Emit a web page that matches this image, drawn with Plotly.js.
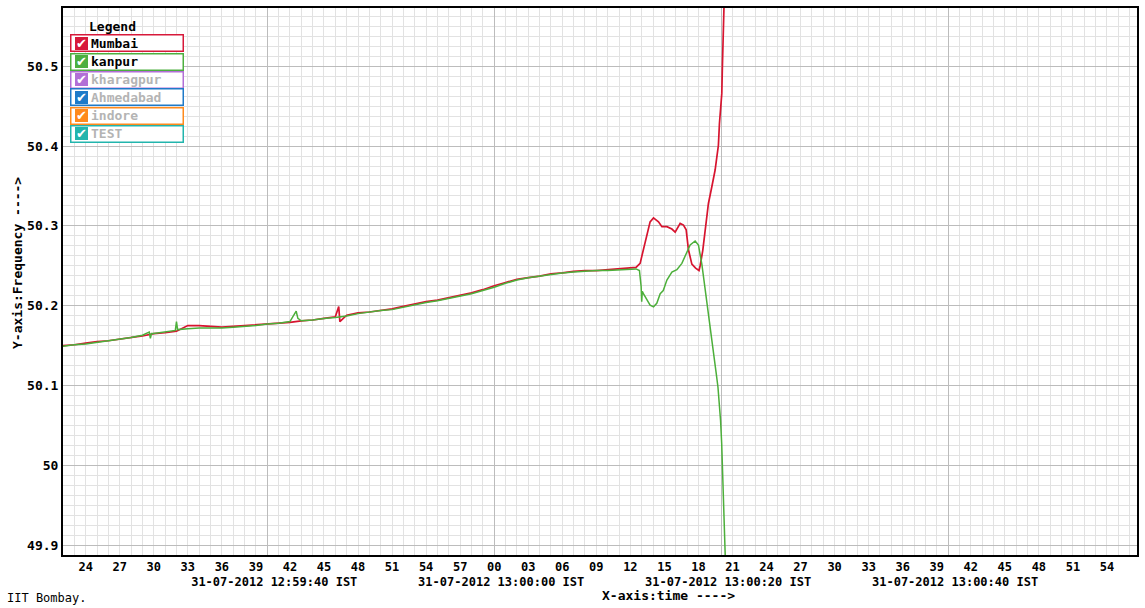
<!DOCTYPE html>
<html>
<head>
<meta charset="utf-8">
<script src="https://cdn.plot.ly/plotly-3.0.1.min.js"></script>
<style>html,body{margin:0;padding:0;background:#fff;}#chart{width:1145px;height:608px;}</style>
</head>
<body>
<div id="chart"></div>
<script>
// time in seconds after 31-07-2012 12:59:00 IST
var mumbaiT = [22,23,24,25,26,27,28,29,30,31,32,33,34,35,36,37,38,39,40,41,42,43,44,45,46,46.3,46.4,47,48,49,50,51,52,53,54,55,56,57,58,59,60,61,62,63,64,65,66,67,68,69,70,71,72,72.5,
  72.86,73.30,73.74,74.04,74.48,74.78,75.22,75.66,75.95,76.39,76.68,76.92,77.12,77.42,77.75,78.05,78.15,78.38,78.59,78.88,79.18,79.47,79.62,79.76,79.85,79.97,80.06,80.11,80.20,80.26,80.30];
var mumbaiF = [50.150,50.151,50.153,50.155,50.156,50.158,50.160,50.162,50.165,50.166,50.168,50.175,50.175,50.174,50.173,50.174,50.175,50.176,50.177,50.178,50.179,50.181,50.182,50.184,50.186,50.199,50.180,50.188,50.191,50.192,50.194,50.196,50.199,50.202,50.205,50.207,50.210,50.213,50.216,50.220,50.225,50.229,50.233,50.235,50.237,50.240,50.241,50.243,50.244,50.244,50.245,50.246,50.247,50.248,
  50.253,50.278,50.305,50.310,50.305,50.299,50.299,50.296,50.292,50.303,50.301,50.295,50.270,50.252,50.247,50.244,50.250,50.269,50.297,50.328,50.349,50.370,50.386,50.401,50.428,50.445,50.466,50.499,50.545,50.574,50.600];

var kanpurT = [22,23,24,25,26,27,28,29,29.6,29.7,29.8,30,31,31.9,32.0,32.1,33,34,35,36,37,38,39,40,41,42,42.55,42.7,43,44,45,46,47,48,49,50,51,52,53,54,55,56,57,58,59,60,61,62,63,64,65,66,67,68,69,70,71,72,72.5,
  72.8,72.95,73.0,73.05,73.15,73.44,73.74,74.04,74.33,74.63,74.9,75.22,75.66,76.1,76.54,76.92,77.27,77.71,78.0,78.3,78.59,78.88,79.18,79.38,79.55,79.72,79.85,79.95,80.05,80.15,80.26,80.35,80.42];
var kanpurF = [50.149,50.151,50.152,50.154,50.156,50.158,50.160,50.163,50.167,50.159,50.165,50.165,50.167,50.169,50.180,50.170,50.171,50.172,50.172,50.172,50.173,50.174,50.175,50.177,50.178,50.180,50.193,50.184,50.181,50.182,50.184,50.185,50.187,50.190,50.192,50.194,50.195,50.198,50.201,50.204,50.206,50.209,50.212,50.215,50.219,50.223,50.228,50.232,50.235,50.237,50.239,50.241,50.242,50.243,50.244,50.244,50.245,50.246,50.246,
  50.244,50.224,50.205,50.218,50.215,50.207,50.2005,50.1985,50.203,50.215,50.219,50.232,50.242,50.245,50.253,50.265,50.276,50.281,50.276,50.252,50.219,50.189,50.157,50.135,50.117,50.098,50.079,50.056,50.027,49.985,49.930,49.894,49.860];

var secTickVals = [24,27,30,33,36,39,42,45,48,51,54,57,60,63,66,69,72,75,78,81,84,87,90,93,96,99,102,105,108,111,114];
var secTickText = ['24','27','30','33','36','39','42','45','48','51','54','57','00','03','06','09','12','15','18','21','24','27','30','33','36','39','42','45','48','51','54'];
var dateTickVals = [40,60,80,100];
var dateTickText = ['31-07-2012 12:59:40 IST','31-07-2012 13:00:00 IST','31-07-2012 13:00:20 IST','31-07-2012 13:00:40 IST'];
var freqTickVals = [49.9,50,50.1,50.2,50.3,50.4,50.5];
var freqTickText = ['49.9','50','50.1','50.2','50.3','50.4','50.5'];

var legendNames = ['Mumbai','kanpur','kharagpur','Ahmedabad','indore','TEST'];
var legendShown = [true,true,false,false,false,false];
var legendColors = ['#d7193a','#4caf3f','#b26fd6','#1f7ac8','#ff8a1c','#22b5ad'];

var xRange = [22.0, 116.65];
var yRange = [49.8875, 50.573];

var mono = 'DejaVu Sans Mono, Liberation Mono, monospace';
var bold13 = {family: mono, size: 13, color: '#000', weight: 'bold'};
var bold12 = {family: mono, size: 12, color: '#000', weight: 'bold'};

var L = 63, R = 1137, T = 8, B = 555;
function px(x) { return (x - L) / (R - L); }
function py(y) { return (B - y) / (B - T); }

var traces = [
  {x: mumbaiT, y: mumbaiF, name: 'Mumbai', type: 'scatter', mode: 'lines', xaxis: 'x', yaxis: 'y',
   line: {color: '#d7142f', width: 1.7}, hoverinfo: 'x+y'},
  {x: kanpurT, y: kanpurF, name: 'kanpur', type: 'scatter', mode: 'lines', xaxis: 'x2', yaxis: 'y',
   line: {color: '#4caf3a', width: 1.5}, hoverinfo: 'x+y'}
];

var ann = [];
ann.push({xref:'paper', yref:'paper', x:px(17), y:py(263), text:'Y-axis:Frequency ---->', textangle:-90,
  showarrow:false, font:bold13, xanchor:'center', yanchor:'middle'});
ann.push({xref:'paper', yref:'paper', x:px(668), y:py(595), text:'X-axis:time ---->',
  showarrow:false, font:bold13, xanchor:'center', yanchor:'middle'});
ann.push({xref:'paper', yref:'paper', x:px(5), y:py(598), text:'IIT Bombay.',
  showarrow:false, font:{family:mono, size:12, color:'#000'}, xanchor:'left', yanchor:'middle'});
ann.push({xref:'paper', yref:'paper', x:px(112), y:py(26), text:'Legend',
  showarrow:false, font:bold13, xanchor:'center', yanchor:'middle'});
for (var i = 0; i < legendNames.length; i++) {
  var cy = 43.5 + i * 18;
  ann.push({xref:'paper', yref:'paper', x:px(70), y:py(cy), text:'\u00a0', showarrow:false,
    xanchor:'left', yanchor:'middle', width:111, height:15, borderpad:0, borderwidth:1.5,
    bordercolor:legendColors[i], bgcolor:'#fff', font:{family:mono, size:11}});
  ann.push({xref:'paper', yref:'paper', x:px(81.5), y:py(cy), text:'\u2714', showarrow:false,
    xanchor:'center', yanchor:'middle', width:13, height:13, borderpad:0, borderwidth:0,
    bgcolor:legendColors[i], font:{family:'DejaVu Sans', size:13, color:'#fff'}});
  ann.push({xref:'paper', yref:'paper', x:px(89), y:py(cy), text:legendNames[i], showarrow:false,
    xanchor:'left', yanchor:'middle',
    font:{family:mono, size:13, weight:'bold', color: legendShown[i] ? '#000' : '#b4b4b4'}});
}

var layout = {
  width: 1145, height: 608,
  margin: {l: L, r: 1145 - R, t: T, b: 608 - B, pad: 0},
  paper_bgcolor: '#fff', plot_bgcolor: '#fff',
  showlegend: false,
  xaxis: {
    range: xRange, tickmode: 'array', tickvals: secTickVals, ticktext: secTickText,
    showgrid: false, zeroline: false, showline: true, linecolor: '#000', linewidth: 2, mirror: true,
    ticks: '', tickfont: bold12, ticklabelstandoff: 0,
    minor: {tickmode: 'linear', tick0: 0, dtick: 1, showgrid: true, gridcolor: '#e2e2e2', gridwidth: 1}
  },
  xaxis2: {
    overlaying: 'x', anchor: 'y', side: 'bottom', range: xRange,
    tickmode: 'array', tickvals: dateTickVals, ticktext: dateTickText,
    showgrid: true, gridcolor: '#bcbcbc', gridwidth: 1, zeroline: false, showline: false,
    ticks: '', tickfont: bold12, ticklabelstandoff: 18, ticklabelshift: 7
  },
  yaxis: {
    range: yRange, tickmode: 'array', tickvals: freqTickVals, ticktext: freqTickText,
    showgrid: true, gridcolor: '#bcbcbc', gridwidth: 1, zeroline: false,
    showline: true, linecolor: '#000', linewidth: 2, mirror: true, ticks: '', tickfont: bold13,
    minor: {tickmode: 'linear', tick0: 0, dtick: 0.0125, showgrid: true, gridcolor: '#e2e2e2', gridwidth: 1}
  },
  annotations: ann
};

Plotly.newPlot('chart', traces, layout, {displayModeBar: false, staticPlot: true});
</script>
</body>
</html>
